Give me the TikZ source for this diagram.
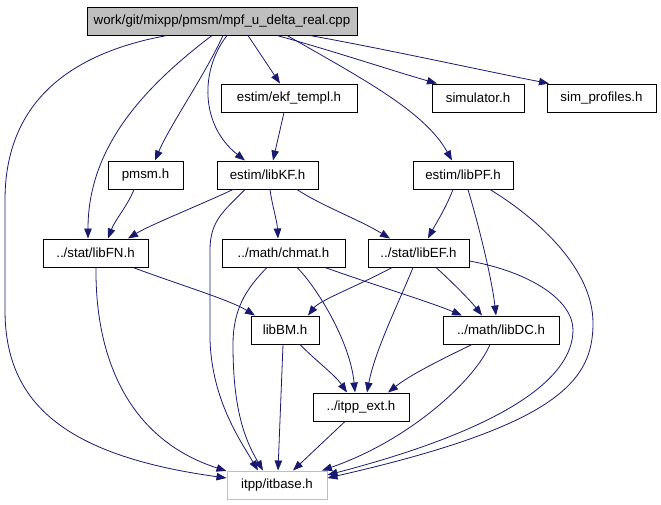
\documentclass[tikz,border=0pt]{standalone}
\usepackage{fontspec}
\setmainfont{Liberation Sans}
\usetikzlibrary{arrows.meta}
\definecolor{edgeblue}{HTML}{191970}
\definecolor{rootgray}{HTML}{BFBFBF}
\tikzset{
  box/.style={draw=black, line width=1pt, inner sep=0pt, minimum height=28pt,
    font=\fontsize{13.3}{15}\selectfont, fill=white},
  edge/.style={draw=edgeblue, line width=0.8pt,
    -{Triangle[length=10pt,width=7.5pt]}, edgeblue}
}
\begin{document}
\begin{tikzpicture}[x=1pt,y=-1pt]
\useasboundingbox (0,0) rectangle (661,504);
% nodes
\node[box, fill=rootgray, minimum width=270pt] (root) at (222,21) {work/git/mixpp/pmsm/mpf\_u\_delta\_real.cpp};
\node[box, minimum width=136pt] (ekf) at (289,98) {estim/ekf\_templ.h};
\node[box, minimum width=92pt] (sim) at (478,98) {simulator.h};
\node[box, minimum width=109pt] (simprof) at (601.5,98) {sim\_profiles.h};
\node[box, minimum width=75pt] (pmsm) at (145.5,175) {pmsm.h};
\node[box, minimum width=101pt] (libKF) at (267.5,175) {estim/libKF.h};
\node[box, minimum width=100pt] (libPF) at (463,175) {estim/libPF.h};
\node[box, minimum width=105pt] (libFN) at (95.5,253) {../stat/libFN.h};
\node[box, minimum width=123pt] (chmat) at (283.5,253) {../math/chmat.h};
\node[box, minimum width=101pt] (libEF) at (418.5,253) {../stat/libEF.h};
\node[box, minimum width=68pt] (libBM) at (285,330) {libBM.h};
\node[box, minimum width=116pt] (libDC) at (501,330) {../math/libDC.h};
\node[box, minimum width=96pt] (itppext) at (361,407) {../itpp\_ext.h};
\node[box, draw=rootgray, minimum width=100pt] (itbase) at (277,485) {itpp/itbase.h};
% edges from root
\draw[edge] (root.south -| 167,0) .. controls (60,55) and (5,110) .. (5,200) -- (5,310)
  .. controls (5,400) and (60,455) .. (itbase.west |- 0,478);
\draw[edge] (root.south -| 212,0) .. controls (140,90) and (88,150) .. (libFN.north -| 88,0);
\draw[edge] (root.south -| 223,0) .. controls (205,75) and (170,125) .. (pmsm.north -| 155,0);
\draw[edge] (root.south -| 227,0) .. controls (200,70) and (200,125) .. (libKF.north -| 245,0);
\draw[edge] (root.south -| 248,0) -- (ekf.north -| 280,0);
\draw[edge] (root.south -| 277,0) .. controls (330,50) and (390,70) .. (sim.north -| 437,0);
\draw[edge] (root.south -| 310,0) .. controls (390,50) and (480,70) .. (simprof.north -| 549,0);
\draw[edge] (root.south -| 287,0) .. controls (365,80) and (425,112) .. (libPF.north -| 452,0);
% second level
\draw[edge] (ekf.south -| 284,0) -- (libKF.north -| 273,0);
\draw[edge] (pmsm.south -| 134,0) .. controls (128,205) and (115,220) .. (libFN.north -| 108,0);
\draw[edge] (libKF.south -| 233,0) .. controls (200,205) and (150,225) .. (libFN.north -| 128,0);
\draw[edge] (libKF.south -| 270,0) .. controls (272,205) and (277,220) .. (chmat.north -| 278,0);
\draw[edge] (libKF.south -| 297,0) .. controls (320,205) and (360,220) .. (libEF.north -| 390,0);
\draw[edge] (libKF.south -| 245,0) .. controls (225,210) and (210,220) .. (210,250) -- (210,340)
  .. controls (212,400) and (240,440) .. (itbase.north -| 258,0);
\draw[edge] (libPF.south -| 453,0) .. controls (445,210) and (435,225) .. (libEF.north -| 428,0);
\draw[edge] (libPF.south -| 468,0) .. controls (480,230) and (492,280) .. (libDC.north -| 496,0);
\draw[edge] (libPF.south -| 490,0) .. controls (540,220) and (593,270) .. (593,323)
  .. controls (593,380) and (560,425) .. (itbase.east |- 0,478);
% third level
\draw[edge] (libFN.south -| 133,0) .. controls (180,285) and (230,300) .. (libBM.north -| 255,0);
\draw[edge] (libFN.south -| 96,0) .. controls (95,360) and (130,440) .. (itbase.west |- 0,471);
\draw[edge] (chmat.south -| 325,0) .. controls (380,287) and (430,302) .. (libDC.north -| 462,0);
\draw[edge] (chmat.south -| 297,0) .. controls (315,285) and (350,340) .. (itppext.north -| 355,0);
\draw[edge] (chmat.south -| 267,0) .. controls (245,290) and (233,310) .. (233,345)
  .. controls (233,410) and (245,440) .. (itbase.north -| 263,0);
\draw[edge] (libEF.south -| 392,0) .. controls (360,285) and (320,300) .. (libBM.north -| 308,0);
\draw[edge] (libEF.south -| 413,0) .. controls (400,300) and (375,350) .. (itppext.north -| 367,0);
\draw[edge] (libEF.south -| 436,0) .. controls (450,280) and (470,300) .. (libDC.north -| 482,0);
\draw[edge] (libEF.east |- 0,261) .. controls (530,272) and (573,300) .. (573,330)
  .. controls (573,380) and (500,430) .. (itbase.east |- 0,475);
% fourth level
\draw[edge] (libBM.south -| 300,0) .. controls (315,360) and (335,375) .. (itppext.north -| 347,0);
\draw[edge] (libBM.south -| 283,0) -- (itbase.north -| 278,0);
\draw[edge] (libDC.south -| 490,0) .. controls (475,380) and (410,440) .. (itbase.north -| 322,0);
\draw[edge] (libDC.south -| 472,0) .. controls (440,360) and (410,375) .. (itppext.north -| 388,0);
\draw[edge] (itppext.south -| 345,0) -- (itbase.north -| 293,0);
\end{tikzpicture}
\end{document}
